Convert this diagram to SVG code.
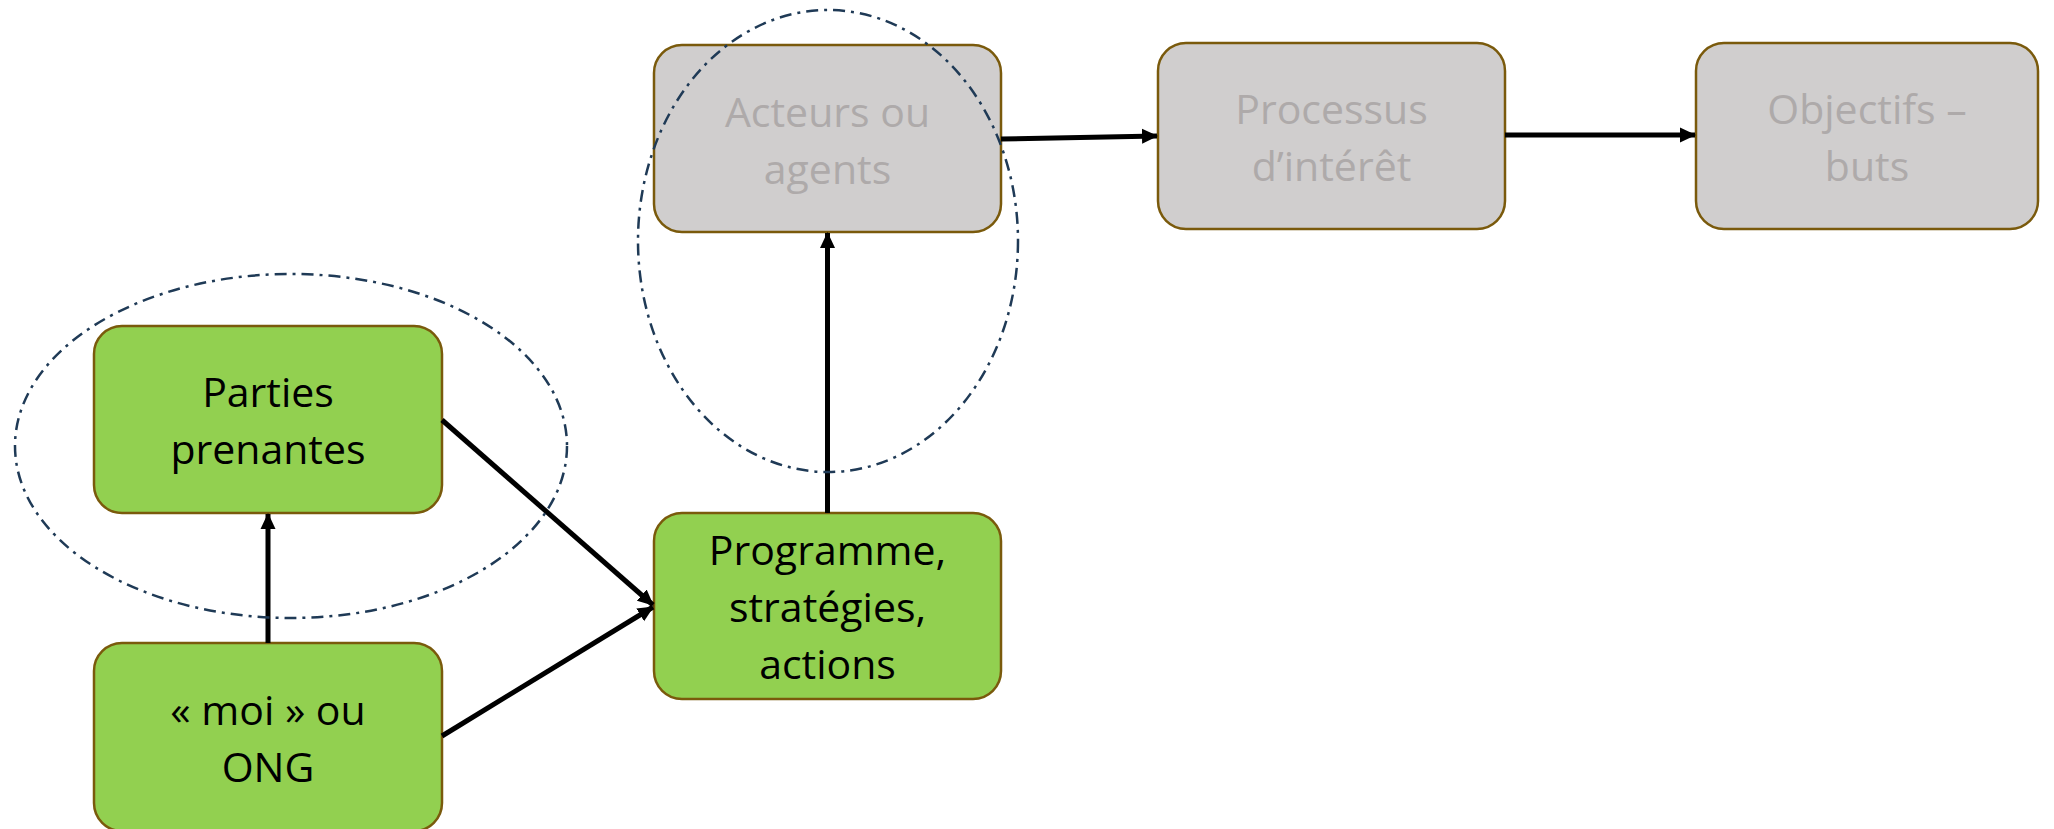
<svg xmlns="http://www.w3.org/2000/svg" width="2054" height="829" viewBox="0 0 2054 829">
  <style>
    .box { stroke: #7A5A0C; stroke-width: 2.5; }
    .on { fill: #92D050; }
    .off { fill: #D0CECE; }
    .lbl { font-family: "Open Sans", "Liberation Sans", sans-serif; font-size: 41px; text-anchor: middle; }
    .lbl-on { fill: #000000; }
    .lbl-off { fill: #AEAAAA; }
    .edge { stroke: #000000; stroke-width: 5; fill: none; marker-end: url(#tip); }
    .halo { fill: none; stroke: #1F3A56; stroke-width: 2.5; stroke-dasharray: 12 6 3 6; }
  </style>
  <defs>
    <marker id="tip" markerUnits="userSpaceOnUse" markerWidth="16" markerHeight="16" refX="15" refY="8" orient="auto">
      <path d="M0,0.5 L16,8 L0,15.5 Z" fill="#000000"/>
    </marker>
  </defs>

  <rect width="2054" height="829" fill="#FFFFFF"/>

  <!-- grey chain -->
  <g id="acteurs">
    <rect class="box off" x="654" y="45" width="347" height="187" rx="28"/>
    <text class="lbl lbl-off" x="827.5" y="127">Acteurs ou</text>
    <text class="lbl lbl-off" x="827.5" y="184">agents</text>
  </g>
  <g id="processus">
    <rect class="box off" x="1158" y="43" width="347" height="186" rx="28"/>
    <text class="lbl lbl-off" x="1331.5" y="124">Processus</text>
    <text class="lbl lbl-off" x="1331.5" y="181">d’intérêt</text>
  </g>
  <g id="objectifs">
    <rect class="box off" x="1696" y="43" width="342" height="186" rx="28"/>
    <text class="lbl lbl-off" x="1867" y="124">Objectifs –</text>
    <text class="lbl lbl-off" x="1867" y="181">buts</text>
  </g>

  <!-- green chain -->
  <g id="parties">
    <rect class="box on" x="94" y="326" width="348" height="187" rx="28"/>
    <text class="lbl lbl-on" x="268" y="407">Parties</text>
    <text class="lbl lbl-on" x="268" y="464">prenantes</text>
  </g>
  <g id="programme">
    <rect class="box on" x="654" y="513" width="347" height="186" rx="28"/>
    <text class="lbl lbl-on" x="827.5" y="565">Programme,</text>
    <text class="lbl lbl-on" x="827.5" y="622">stratégies,</text>
    <text class="lbl lbl-on" x="827.5" y="679">actions</text>
  </g>
  <g id="moi">
    <rect class="box on" x="94" y="643" width="348" height="188" rx="28"/>
    <text class="lbl lbl-on" x="268" y="725">« moi » ou</text>
    <text class="lbl lbl-on" x="268" y="782">ONG</text>
  </g>

  <!-- connectors -->
  <g id="connectors">
    <line class="edge" x1="268" y1="643" x2="268" y2="514"/>
    <line class="edge" x1="442" y1="420" x2="653" y2="605"/>
    <line class="edge" x1="442" y1="736" x2="653" y2="607"/>
    <line class="edge" x1="827.5" y1="513" x2="827.5" y2="233"/>
    <line class="edge" x1="1001" y1="139" x2="1157" y2="136"/>
    <line class="edge" x1="1505" y1="135" x2="1695" y2="135"/>
  </g>

  <!-- dash-dot groupings -->
  <g id="groupings">
    <ellipse class="halo" cx="291" cy="446" rx="276" ry="172"/>
    <ellipse class="halo" cx="828" cy="241" rx="190" ry="231"/>
  </g>
</svg>
